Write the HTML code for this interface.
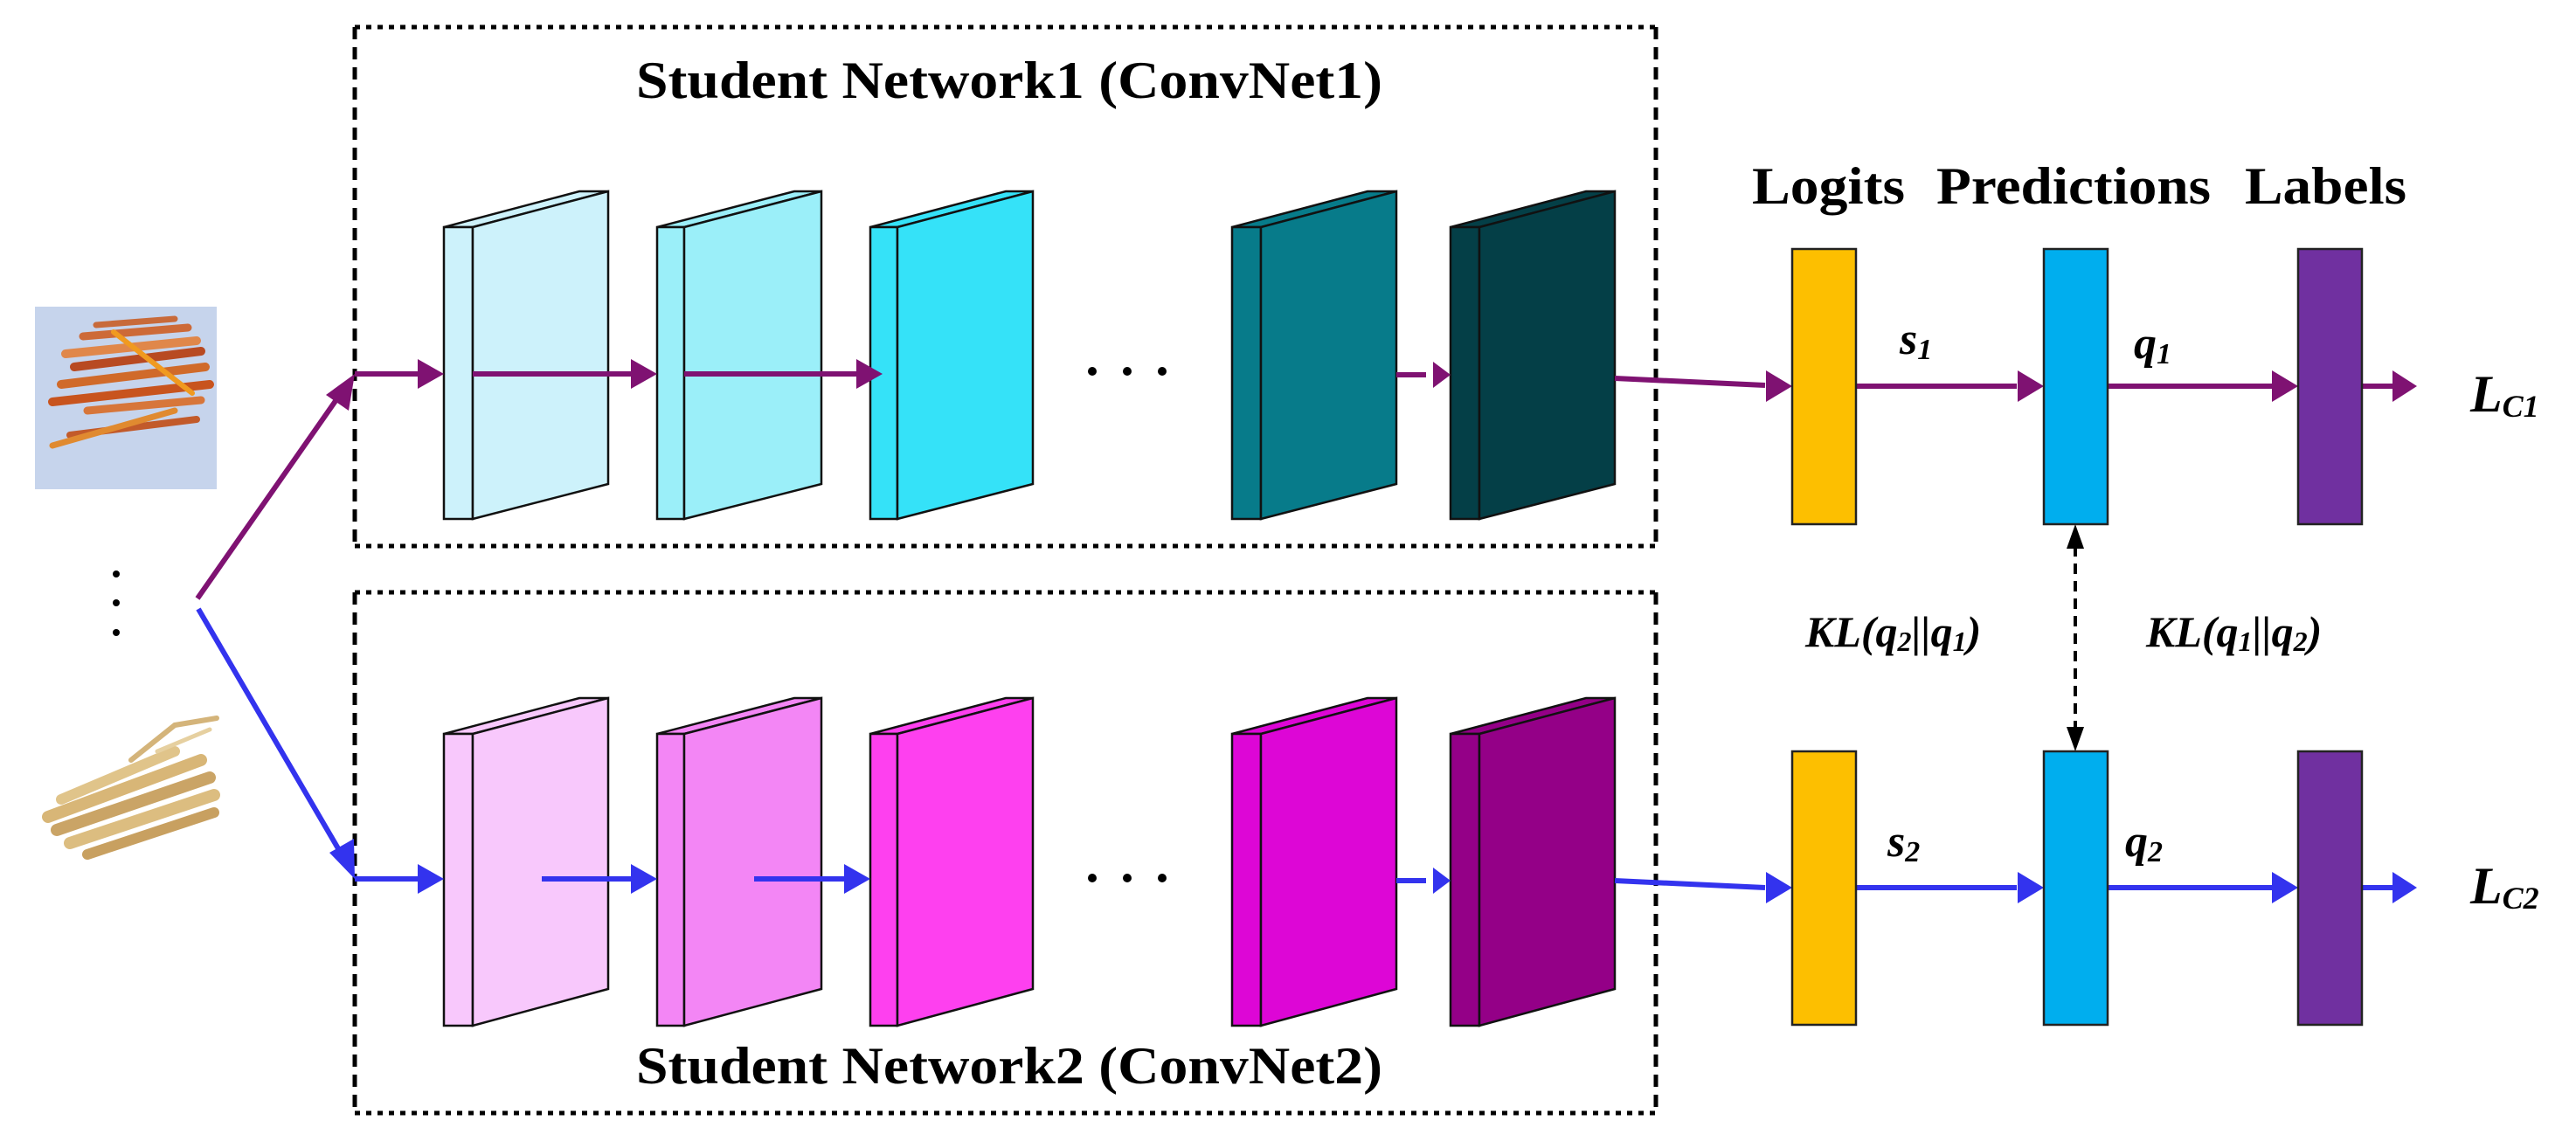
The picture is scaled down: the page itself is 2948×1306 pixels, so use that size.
<!DOCTYPE html>
<html><head><meta charset="utf-8"><style>html,body{margin:0;padding:0;background:#fff}svg{display:block}</style></head>
<body>
<svg width="2948" height="1306" viewBox="0 0 2948 1306" xmlns="http://www.w3.org/2000/svg">
<style>
.t{font-family:"Liberation Serif",serif;font-weight:bold;}
.i{font-family:"Liberation Serif",serif;font-weight:bold;font-style:italic;}
</style>
<!-- dashed boxes -->
<g fill="none" stroke="#000" stroke-width="5">
<path d="M406,31 H1895" stroke-dasharray="6,7"/>
<path d="M406,625 H1895" stroke-dasharray="6,7"/>
<path d="M406,31 V625 M1895,31 V625" stroke-dasharray="14,9"/>
<path d="M406,678 H1895" stroke-dasharray="6,7"/>
<path d="M406,1274 H1895" stroke-dasharray="6,7"/>
<path d="M406,678 V1274 M1895,678 V1274" stroke-dasharray="14,9"/>
</g>
<text class="t" x="728" y="112" font-size="60" textLength="854" lengthAdjust="spacingAndGlyphs">Student Network1 (ConvNet1)</text>
<text class="t" x="728" y="1240" font-size="60" textLength="854" lengthAdjust="spacingAndGlyphs">Student Network2 (ConvNet2)</text>

<!-- images -->
<rect x="40" y="351" width="208" height="209" fill="#c6d4ec"/>
<g stroke-linecap="round">
<path d="M60,460 L240,440" stroke="#c8541e" stroke-width="10"/>
<path d="M70,440 L235,420" stroke="#d06a2a" stroke-width="10"/>
<path d="M85,420 L230,402" stroke="#b84a22" stroke-width="10"/>
<path d="M75,405 L225,390" stroke="#e0874a" stroke-width="10"/>
<path d="M95,385 L215,375" stroke="#cd6a38" stroke-width="9"/>
<path d="M100,470 L230,458" stroke="#d7763a" stroke-width="9"/>
<path d="M80,498 L225,480" stroke="#c25a2a" stroke-width="8"/>
<path d="M60,510 L200,470" stroke="#e08a30" stroke-width="7"/>
<path d="M130,380 L220,450" stroke="#f09a20" stroke-width="6"/>
<path d="M110,372 L200,365" stroke="#c86a3a" stroke-width="7"/>
</g>
<g stroke-linecap="round">
<path d="M55,935 L230,870" stroke="#d8b677" stroke-width="14"/>
<path d="M65,950 L240,890" stroke="#caa466" stroke-width="14"/>
<path d="M80,965 L245,910" stroke="#dcbd80" stroke-width="14"/>
<path d="M100,978 L245,930" stroke="#c8a060" stroke-width="12"/>
<path d="M70,915 L200,860" stroke="#e0c48a" stroke-width="12"/>
<path d="M150,870 L200,830 L248,822" stroke="#d4b47a" stroke-width="6" fill="none"/>
<path d="M180,860 L240,835" stroke="#e6d0a0" stroke-width="5"/>
</g>
<circle cx="133" cy="657" r="4" fill="#000"/><circle cx="133" cy="690" r="4" fill="#000"/><circle cx="133" cy="724" r="4" fill="#000"/>

<!-- branches -->
<path d="M226,685 L393,446" stroke="#7f1272" stroke-width="6"/>
<polygon points="406,428 399,470 373,452" fill="#7f1272"/>
<path d="M227,697 L395,985" stroke="#3333ee" stroke-width="6"/>
<polygon points="406,1006 377,976 405,960" fill="#3333ee"/>

<!-- layers -->
<g stroke="#111" stroke-width="2.5">
<g fill="#cdf2fb"><polygon points="508,260 541,260 696,219 663,219"/><rect x="508" y="260" width="33" height="334"/><polygon points="541,260 696,219 696,554 541,594"/></g>
<g fill="#9beff9"><polygon points="752,260 783,260 940,219 909,219"/><rect x="752" y="260" width="31" height="334"/><polygon points="783,260 940,219 940,554 783,594"/></g>
<g fill="#35e2f8"><polygon points="996,260 1027,260 1182,219 1151,219"/><rect x="996" y="260" width="31" height="334"/><polygon points="1027,260 1182,219 1182,554 1027,594"/></g>
<g fill="#077b8a"><polygon points="1410,260 1443,260 1598,219 1565,219"/><rect x="1410" y="260" width="33" height="334"/><polygon points="1443,260 1598,219 1598,554 1443,594"/></g>
<g fill="#043f47"><polygon points="1660,260 1693,260 1848,219 1815,219"/><rect x="1660" y="260" width="33" height="334"/><polygon points="1693,260 1848,219 1848,554 1693,594"/></g>
<g fill="#f8c8fc"><polygon points="508,840 541,840 696,799 663,799"/><rect x="508" y="840" width="33" height="334"/><polygon points="541,840 696,799 696,1132 541,1174"/></g>
<g fill="#f386f5"><polygon points="752,840 783,840 940,799 909,799"/><rect x="752" y="840" width="31" height="334"/><polygon points="783,840 940,799 940,1132 783,1174"/></g>
<g fill="#fe40ef"><polygon points="996,840 1027,840 1182,799 1151,799"/><rect x="996" y="840" width="31" height="334"/><polygon points="1027,840 1182,799 1182,1132 1027,1174"/></g>
<g fill="#dd06d6"><polygon points="1410,840 1443,840 1598,799 1565,799"/><rect x="1410" y="840" width="33" height="334"/><polygon points="1443,840 1598,799 1598,1132 1443,1174"/></g>
<g fill="#940087"><polygon points="1660,840 1693,840 1848,799 1815,799"/><rect x="1660" y="840" width="33" height="334"/><polygon points="1693,840 1848,799 1848,1132 1693,1174"/></g>
</g>
<g fill="#000">
<circle cx="1250" cy="425" r="5"/><circle cx="1290" cy="425" r="5"/><circle cx="1330" cy="425" r="5"/>
<circle cx="1250" cy="1005" r="5"/><circle cx="1290" cy="1005" r="5"/><circle cx="1330" cy="1005" r="5"/>
</g>

<!-- top arrows -->
<g stroke="#7f1272" stroke-width="6">
<path d="M406,428 H480"/><path d="M541,428 H722"/><path d="M783,428 H980"/><path d="M1598,429 H1632"/>
<path d="M1848,433 L2020,441"/><path d="M2124,442 H2308"/><path d="M2412,442 H2600"/><path d="M2703,442 H2740"/>
</g>
<g fill="#7f1272">
<polygon points="508,428 478,411 478,445"/><polygon points="752,428 722,411 722,445"/><polygon points="1010,428 980,411 980,445"/>
<polygon points="1660,429 1640,414 1640,444"/><polygon points="2051,442 2021,424 2021,460"/><polygon points="2339,442 2309,424 2309,460"/>
<polygon points="2630,442 2600,424 2600,460"/><polygon points="2766,442 2738,424 2738,460"/>
</g>
<!-- bottom arrows -->
<g stroke="#3333ee" stroke-width="6">
<path d="M406,1006 H480"/><path d="M620,1006 H722"/><path d="M863,1006 H966"/><path d="M1598,1008 H1632"/>
<path d="M1848,1008 L2020,1016"/><path d="M2124,1016 H2308"/><path d="M2412,1016 H2600"/><path d="M2703,1016 H2740"/>
</g>
<g fill="#3333ee">
<polygon points="508,1006 478,989 478,1023"/><polygon points="752,1006 722,989 722,1023"/><polygon points="996,1006 966,989 966,1023"/>
<polygon points="1660,1008 1640,993 1640,1023"/><polygon points="2051,1016 2021,998 2021,1034"/><polygon points="2339,1016 2309,998 2309,1034"/>
<polygon points="2630,1016 2600,998 2600,1034"/><polygon points="2766,1016 2738,998 2738,1034"/>
</g>

<!-- bars -->
<g stroke="#222" stroke-width="2.5">
<rect x="2051" y="285" width="73" height="315" fill="#fdbf00"/>
<rect x="2339" y="285" width="73" height="315" fill="#00aeee"/>
<rect x="2630" y="285" width="73" height="315" fill="#7030a0"/>
<rect x="2051" y="860" width="73" height="313" fill="#fdbf00"/>
<rect x="2339" y="860" width="73" height="313" fill="#00aeee"/>
<rect x="2630" y="860" width="73" height="313" fill="#7030a0"/>
</g>
<path d="M2375,625 V835" stroke="#000" stroke-width="4" stroke-dasharray="12,8"/>
<polygon points="2375,600 2365,628 2385,628" fill="#000"/>
<polygon points="2375,860 2365,832 2385,832" fill="#000"/>

<text class="t" x="2005" y="233" font-size="60" textLength="175" lengthAdjust="spacingAndGlyphs">Logits</text>
<text class="t" x="2216" y="233" font-size="60" textLength="314" lengthAdjust="spacingAndGlyphs">Predictions</text>
<text class="t" x="2569" y="233" font-size="60" textLength="185" lengthAdjust="spacingAndGlyphs">Labels</text>

<g class="i" font-size="52">
<text x="2174" y="405">s<tspan font-size="34" dy="6">1</tspan></text>
<text x="2442" y="410">q<tspan font-size="34" dy="6">1</tspan></text>
<text x="2160" y="980">s<tspan font-size="34" dy="6">2</tspan></text>
<text x="2432" y="980">q<tspan font-size="34" dy="6">2</tspan></text>
<text x="2827" y="471" font-size="60">L<tspan font-size="36" dy="6">C1</tspan></text>
<text x="2827" y="1034" font-size="60">L<tspan font-size="36" dy="6">C2</tspan></text>
<text x="2066" y="740" font-size="50">KL(q<tspan font-size="32" dy="5">2</tspan><tspan dy="-5">||q</tspan><tspan font-size="32" dy="5">1</tspan><tspan dy="-5">)</tspan></text>
<text x="2456" y="740" font-size="50">KL(q<tspan font-size="32" dy="5">1</tspan><tspan dy="-5">||q</tspan><tspan font-size="32" dy="5">2</tspan><tspan dy="-5">)</tspan></text>
</g>
</svg>
</body></html>
